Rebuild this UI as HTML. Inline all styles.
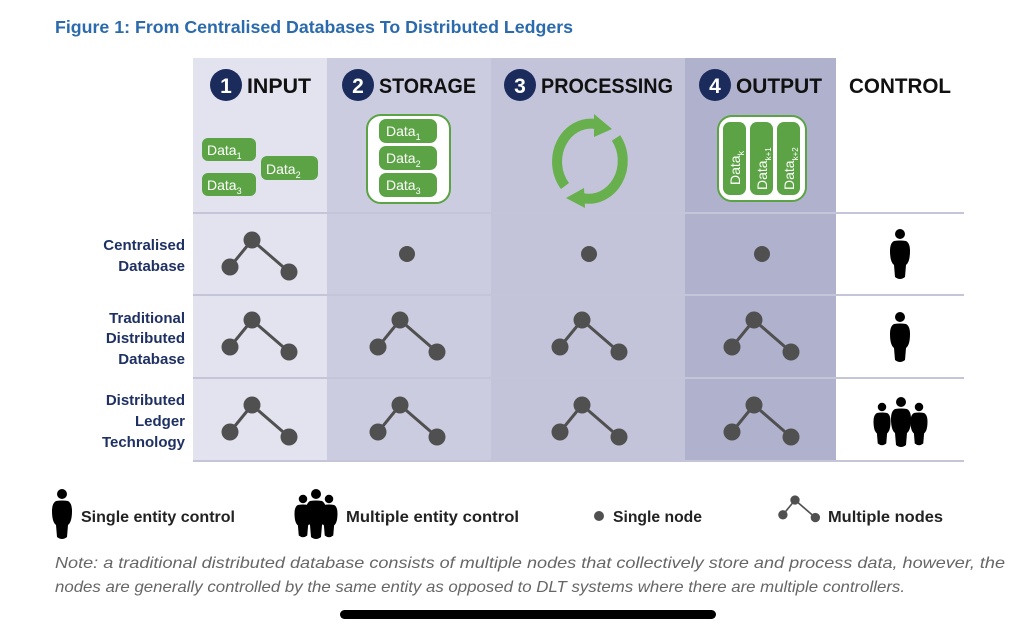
<!DOCTYPE html>
<html><head><meta charset="utf-8"><style>
body{margin:0;background:#fff;width:1024px;height:633px;overflow:hidden}
svg{display:block}
text{font-family:"Liberation Sans",sans-serif}
</style></head><body>
<svg width="1024" height="633" viewBox="0 0 1024 633">
<defs>
<g id="mn"><line x1="0" y1="0" x2="-22" y2="27" stroke="#505050" stroke-width="3"/><line x1="0" y1="0" x2="37" y2="32" stroke="#505050" stroke-width="3"/><circle cx="0" cy="0" r="8.5" fill="#505050"/><circle cx="-22" cy="27" r="8.5" fill="#505050"/><circle cx="37" cy="32" r="8.5" fill="#505050"/></g>
<g id="p"><circle cx="0" cy="-20" r="5" fill="#000"/><path d="M-6,-13 Q0,-14 6,-13 Q10,-11 10,-3 Q10,8 6,11 L5,23 Q0,27 -5,23 L-6,11 Q-10,8 -10,-3 Q-10,-11 -6,-13Z" fill="#000"/></g>
</defs>
<text x="55" y="33" font-size="17.5" font-weight="bold" fill="#2a6aad" textLength="518" lengthAdjust="spacingAndGlyphs">Figure 1: From Centralised Databases To Distributed Ledgers</text>
<rect x="193" y="58" width="134" height="403" fill="#e3e3ef"/>
<rect x="327" y="58" width="164" height="403" fill="#cbcce0"/>
<rect x="491" y="58" width="194" height="403" fill="#c3c4da"/>
<rect x="685" y="58" width="151" height="403" fill="#b0b2cd"/>
<g stroke="#c4c5d8" stroke-width="2"><line x1="193" y1="213" x2="964" y2="213"/><line x1="193" y1="295" x2="964" y2="295"/><line x1="193" y1="378" x2="964" y2="378"/><line x1="193" y1="461" x2="964" y2="461"/></g>
<g font-size="21" font-weight="bold" fill="#111">
<circle cx="226" cy="85" r="16" fill="#1b2b5c"/><text x="226" y="93" fill="#fff" text-anchor="middle">1</text><text x="247" y="93" textLength="64" lengthAdjust="spacingAndGlyphs">INPUT</text>
<circle cx="358" cy="85" r="16" fill="#1b2b5c"/><text x="358" y="93" fill="#fff" text-anchor="middle">2</text><text x="379" y="93" textLength="97" lengthAdjust="spacingAndGlyphs">STORAGE</text>
<circle cx="520" cy="85" r="16" fill="#1b2b5c"/><text x="520" y="93" fill="#fff" text-anchor="middle">3</text><text x="541" y="93" textLength="132" lengthAdjust="spacingAndGlyphs">PROCESSING</text>
<circle cx="715" cy="85" r="16" fill="#1b2b5c"/><text x="715" y="93" fill="#fff" text-anchor="middle">4</text><text x="736" y="93" textLength="86" lengthAdjust="spacingAndGlyphs">OUTPUT</text>
<text x="849" y="93" textLength="102" lengthAdjust="spacingAndGlyphs">CONTROL</text>
</g>
<g fill="#5ba345"><rect x="202" y="138" width="54" height="23" rx="6"/><rect x="261" y="156" width="57" height="24" rx="6"/><rect x="202" y="173" width="54" height="23" rx="6"/></g>
<g font-size="14" fill="#fff"><text x="207" y="155">Data<tspan font-size="9" dy="4">1</tspan></text><text x="266" y="174">Data<tspan font-size="9" dy="4">2</tspan></text><text x="207" y="190">Data<tspan font-size="9" dy="4">3</tspan></text></g>
<rect x="367" y="115" width="83" height="88" rx="14" fill="#fff" stroke="#5ba345" stroke-width="2"/>
<g fill="#5ba345"><rect x="379" y="119" width="58" height="24" rx="7"/><rect x="379" y="146" width="58" height="24" rx="7"/><rect x="379" y="173" width="58" height="24" rx="7"/></g>
<g font-size="14" fill="#fff"><text x="386" y="136">Data<tspan font-size="9" dy="4">1</tspan></text><text x="386" y="163">Data<tspan font-size="9" dy="4">2</tspan></text><text x="386" y="190">Data<tspan font-size="9" dy="4">3</tspan></text></g>
<g fill="none" stroke="#67b04d" stroke-width="10">
<path d="M565,186 A34,38 0 0 1 596,124"/>
<path d="M616,138 A34,38 0 0 1 582,198"/>
</g>
<g fill="#67b04d"><path d="M594,114 L612,129 L594,137Z"/><path d="M584,188 L566,198 L585,208Z"/></g>
<rect x="718" y="116" width="88" height="85" rx="14" fill="#fff" stroke="#5ba345" stroke-width="2"/>
<g fill="#5ba345"><rect x="723" y="122" width="23" height="73" rx="7"/><rect x="750" y="122" width="23" height="73" rx="7"/><rect x="777" y="122" width="23" height="73" rx="7"/></g>
<g font-size="14" fill="#fff">
<text transform="translate(740,185) rotate(-90)">Data<tspan font-size="9" dy="4">k</tspan></text>
<text transform="translate(767,190) rotate(-90)">Data<tspan font-size="8" dy="4">k+1</tspan></text>
<text transform="translate(794,190) rotate(-90)">Data<tspan font-size="8" dy="4">k+2</tspan></text>
</g>
<g font-size="15" font-weight="bold" fill="#1f3163" text-anchor="end">
<text x="185" y="250">Centralised</text><text x="185" y="271">Database</text>
<text x="185" y="323">Traditional</text><text x="185" y="343">Distributed</text><text x="185" y="364">Database</text>
<text x="185" y="405">Distributed</text><text x="185" y="426">Ledger</text><text x="185" y="447">Technology</text>
</g>
<use href="#mn" x="252" y="240"/>
<circle cx="407" cy="254" r="8" fill="#505050"/><circle cx="589" cy="254" r="8" fill="#505050"/><circle cx="762" cy="254" r="8" fill="#505050"/>
<use href="#mn" x="252" y="320"/><use href="#mn" x="400" y="320"/><use href="#mn" x="582" y="320"/><use href="#mn" x="754" y="320"/>
<use href="#mn" x="252" y="405"/><use href="#mn" x="400" y="405"/><use href="#mn" x="582" y="405"/><use href="#mn" x="754" y="405"/>
<use href="#p" x="900" y="254"/><use href="#p" x="900" y="337"/>
<g transform="translate(882,424) scale(0.85)"><use href="#p"/></g>
<g transform="translate(919,424) scale(0.85)"><use href="#p"/></g>
<use href="#p" x="901" y="422"/>
<use href="#p" x="62" y="514"/>
<text x="81" y="522" font-size="15.5" font-weight="bold" fill="#222" textLength="154" lengthAdjust="spacingAndGlyphs">Single entity control</text>
<g transform="translate(303,516) scale(0.85)"><use href="#p"/></g>
<g transform="translate(329,516) scale(0.85)"><use href="#p"/></g>
<use href="#p" x="316" y="514"/>
<text x="346" y="522" font-size="15.5" font-weight="bold" fill="#222" textLength="173" lengthAdjust="spacingAndGlyphs">Multiple entity control</text>
<circle cx="599" cy="516" r="5" fill="#505050"/>
<text x="613" y="522" font-size="15.5" font-weight="bold" fill="#222" textLength="89" lengthAdjust="spacingAndGlyphs">Single node</text>
<g transform="translate(795,500) scale(0.55)"><use href="#mn"/></g>
<text x="828" y="522" font-size="15.5" font-weight="bold" fill="#222" textLength="115" lengthAdjust="spacingAndGlyphs">Multiple nodes</text>
<g font-size="16" font-style="italic" fill="#666">
<text x="55" y="568" textLength="950" lengthAdjust="spacingAndGlyphs">Note: a traditional distributed database consists of multiple nodes that collectively store and process data, however, the</text>
<text x="55" y="592" textLength="850" lengthAdjust="spacingAndGlyphs">nodes are generally controlled by the same entity as opposed to DLT systems where there are multiple controllers.</text>
</g>
<rect x="340" y="610" width="376" height="9" rx="4.5" fill="#000"/>
</svg>
</body></html>
